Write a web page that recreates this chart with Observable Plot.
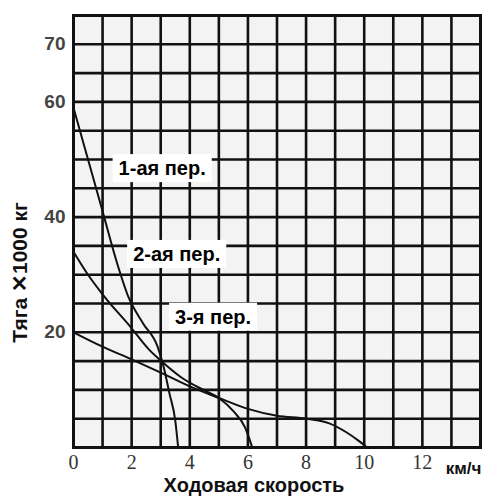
<!DOCTYPE html>
<html>
<head>
<meta charset="utf-8">
<script src="https://cdn.jsdelivr.net/npm/d3@7"></script>
<script src="https://cdn.jsdelivr.net/npm/@observablehq/plot@0.6"></script>
<style>
  html, body { margin: 0; padding: 0; background: #fff; }
  #chart { width: 492px; height: 504px; }
</style>
</head>
<body>
<div id="chart"></div>
<script>
// Data: speed (km/h) vs tractive force (x1000 kg)
const gear1Speed  = [0, 0.5, 1.0, 1.5, 1.9, 2.4, 2.9, 3.1, 3.3, 3.5, 3.6];
const gear1Thrust = [59, 50, 41, 32, 26, 21.5, 17.4, 14, 9.4, 4.7, 0];

const gear2Speed  = [0, 0.5, 1.0, 2.0, 2.6, 3.0, 3.7, 4.5, 5.0, 5.5, 5.9, 6.05, 6.15];
const gear2Thrust = [34, 30, 26.6, 20.7, 17, 15.1, 12.2, 9.9, 8.6, 6.3, 3.5, 1.5, 0];

const gear3Speed  = [0, 1.0, 2.0, 3.0, 4.0, 5.0, 6.0, 7.0, 8.0, 8.8, 9.4, 9.8, 10.1];
const gear3Thrust = [20, 17.5, 15.3, 13.0, 10.6, 8.6, 6.7, 5.5, 5.0, 4.2, 2.6, 1.2, 0];

const gearNames   = ["1-ая пер.", "2-ая пер.", "3-я пер."];
const labelSpeed  = [3.05, 3.55, 4.8];
const labelThrust = [48.4, 33.5, 22.6];

const xTicks = [0, 2, 4, 6, 8, 10, 12];
const yTicks = [20, 40, 60, 70];
const xGrid = d3.range(0, 15, 1);
const yGrid = d3.range(0, 80, 5);

const xTitle = "Ходовая скорость";
const yTitle = "Тяга ✕1000 кг";
const xUnit = "км/ч";

const series = [
  [gear1Speed, gear1Thrust],
  [gear2Speed, gear2Thrust],
  [gear3Speed, gear3Thrust]
].flatMap(([xs, ys], i) => xs.map((x, j) => ({gear: gearNames[i], speed: x, thrust: ys[j]})));

const labels = gearNames.map((name, i) => ({name, speed: labelSpeed[i], thrust: labelThrust[i]}));

const sans = "'Liberation Sans', Arial, sans-serif";
const serif = "'Liberation Serif', 'Times New Roman', serif";

const chart = Plot.plot({
  width: 492,
  height: 504,
  marginLeft: 73,
  marginRight: 12,
  marginTop: 15,
  marginBottom: 57,
  style: {background: "#fff", overflow: "visible"},
  x: {domain: [0, 14]},
  y: {domain: [0, 75]},
  marks: [
    Plot.frame({fill: "#f3f3f3", stroke: null}),
    Plot.gridX(xGrid, {stroke: "#111", strokeOpacity: 1, strokeWidth: 2.6}),
    Plot.gridY(yGrid, {stroke: "#111", strokeOpacity: 1, strokeWidth: 2.6}),
    Plot.frame({stroke: "#111", strokeWidth: 3}),
    Plot.line(series, {x: "speed", y: "thrust", z: "gear", stroke: "#111", strokeWidth: 2, curve: "monotone-x"}),
    Plot.text(labels, {x: "speed", y: "thrust", text: "name", fontFamily: sans, fontWeight: "bold", fontSize: 20, fill: "#000"}),
    Plot.axisY(yTicks, {tickSize: 0, tickPadding: 8, label: null, fontFamily: sans, fontWeight: "bold", fontSize: 19, fill: "#444"}),
    Plot.axisX(xTicks, {tickSize: 0, tickPadding: 7, label: null, fontFamily: serif, fontSize: 20, fill: "#333"}),
    Plot.text([xTitle], {frameAnchor: "bottom", dx: -23, dy: 44, fontFamily: sans, fontWeight: "bold", fontSize: 20, fill: "#111"}),
    Plot.text([xUnit], {frameAnchor: "bottom-right", dx: -17, dy: 26, textAnchor: "middle", fontFamily: sans, fontWeight: "bold", fontSize: 17, fill: "#111"}),
    Plot.text([yTitle], {frameAnchor: "left", textAnchor: "middle", rotate: -90, dx: -53, dy: 41, fontFamily: sans, fontWeight: "bold", fontSize: 21, fill: "#111"})
  ]
});

document.getElementById("chart").appendChild(chart);

// white boxes behind gear labels
chart.querySelectorAll("text").forEach(t => {
  if (!gearNames.includes(t.textContent)) return;
  const b = t.getBBox();
  const r = document.createElementNS("http://www.w3.org/2000/svg", "rect");
  r.setAttribute("x", b.x - 6);
  r.setAttribute("y", b.y - 3);
  r.setAttribute("width", b.width + 12);
  r.setAttribute("height", b.height + 6);
  r.setAttribute("fill", "#fff");
  const tr = t.getAttribute("transform");
  if (tr) r.setAttribute("transform", tr);
  t.parentNode.insertBefore(r, t);
});
</script>
</body>
</html>
